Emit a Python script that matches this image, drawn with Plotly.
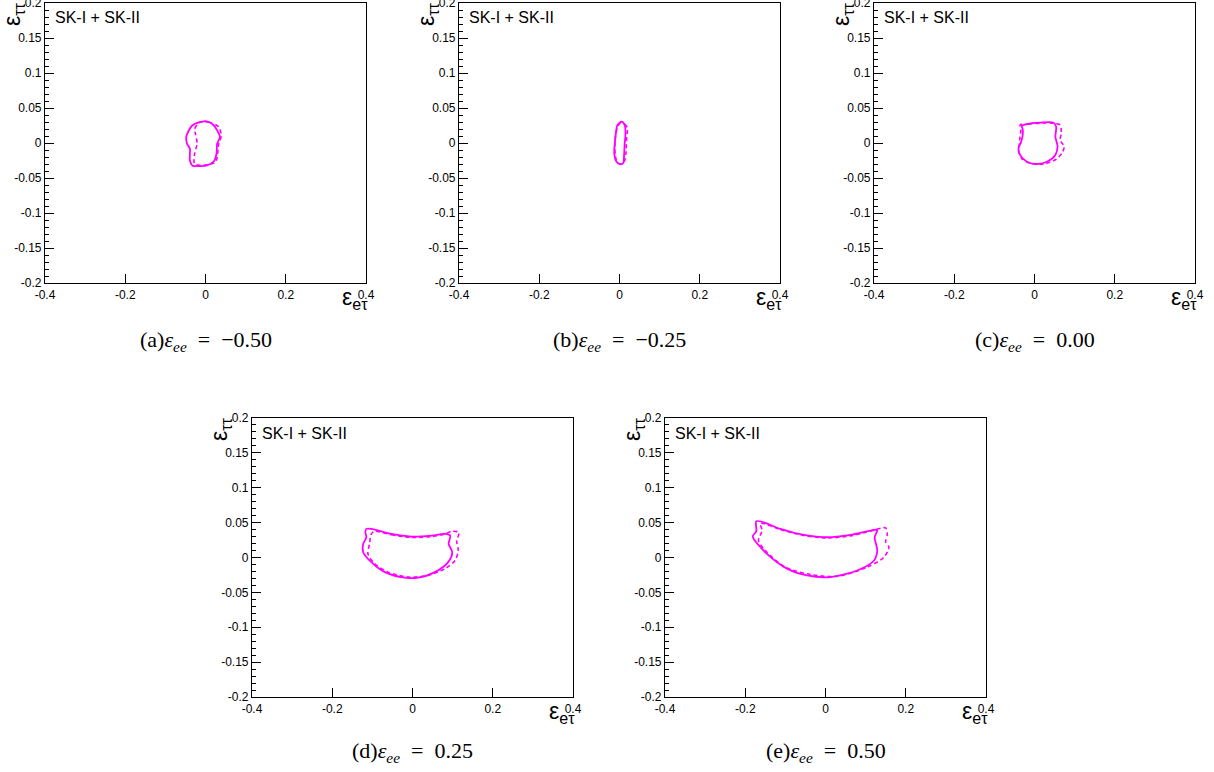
import plotly.graph_objects as go

# ---------------- data ----------------
panel_labels = ["(a)", "(b)", "(c)", "(d)", "(e)"]
eps_ee_values = ["\u22120.50", "\u22120.25", "0.00", "0.25", "0.50"]
x_tick_vals = [-0.4, -0.2, 0.0, 0.2, 0.4]
x_tick_text = ["-0.4", "-0.2", "0", "0.2", "0.4"]
y_tick_vals = [-0.2, -0.15, -0.1, -0.05, 0.0, 0.05, 0.1, 0.15, 0.2]
y_tick_text = ["-0.2", "-0.15", "-0.1", "-0.05", "0", "0.05", "0.1", "0.15", "0.2"]
legend_text = "SK-I + SK-II"

# (a) eps_ee = -0.50
a_solid_x = [-0.004, 0.008, 0.021, 0.029, 0.036, 0.029, 0.0275, 0.021, 0.004, -0.0125, -0.033, -0.039, -0.039, -0.046, -0.048, -0.033, -0.004]
a_solid_y = [0.031, 0.030, 0.025, 0.018, 0.0086, -0.001, -0.015, -0.026, -0.032, -0.033, -0.032, -0.025, -0.008, -0.001, 0.0086, 0.025, 0.031]
a_dash_x = [-0.0125, 0.008, 0.033, 0.039, 0.033, 0.029, 0.025, 0.004, -0.0125, -0.0275, -0.027, -0.021, -0.025, -0.027, -0.017, -0.0125]
a_dash_y = [0.030, 0.030, 0.023, 0.0095, -0.001, -0.020, -0.027, -0.031, -0.032, -0.0295, -0.015, -0.001, 0.013, 0.020, 0.0286, 0.030]

# (b) eps_ee = -0.25
b_solid_x = [0.005, 0.013, 0.015, 0.013, 0.0117, 0.009, 0.003, -0.0075, -0.013, -0.0117, -0.009, -0.005, 0.005]
b_solid_y = [0.0305, 0.0257, 0.0138, -0.0005, -0.0148, -0.029, -0.0305, -0.0267, -0.0148, -0.0005, 0.0138, 0.0257, 0.0305]
b_dash_x = [0.001, 0.013, 0.020, 0.019, 0.0175, 0.0167, 0.016, 0.0117, 0.003, -0.005, -0.010, -0.0117, -0.010, -0.006, 0.001]
b_dash_y = [0.028, 0.027, 0.021, 0.0138, 0.0043, -0.0076, -0.0148, -0.0267, -0.030, -0.028, -0.0195, -0.005, 0.009, 0.021, 0.028]

# (c) eps_ee = 0.00
c_solid_x = [-0.032, -0.019, 0.014, 0.0475, 0.054, 0.052, 0.0575, 0.052, 0.031, 0.006, -0.019, -0.036, -0.040, -0.033, -0.029, -0.030, -0.032]
c_solid_y = [0.0243, 0.027, 0.029, 0.029, 0.023, 0.009, -0.005, -0.017, -0.0267, -0.030, -0.0267, -0.017, -0.0076, 0.002, 0.0138, 0.021, 0.0243]
c_dash_x = [-0.036, -0.015, 0.020, 0.050, 0.064, 0.0667, 0.064, 0.074, 0.068, 0.052, 0.0225, -0.011, -0.032, -0.040, -0.0375, -0.036, -0.034, -0.036]
c_dash_y = [0.0257, 0.027, 0.0285, 0.028, 0.0257, 0.0138, 0.004, -0.005, -0.0148, -0.024, -0.030, -0.029, -0.022, -0.010, -0.0005, 0.009, 0.0186, 0.0257]

# (d) eps_ee = 0.25
d_solid_x = [-0.115, -0.1025, -0.0525, -0.0025, 0.0475, 0.081, 0.094, 0.090, 0.099, 0.089, 0.056, 0.014, -0.019, -0.069, -0.1025, -0.123, -0.123, -0.115, -0.1175, -0.115]
d_solid_y = [0.041, 0.041, 0.0338, 0.030, 0.0314, 0.0338, 0.0314, 0.0195, 0.0076, -0.0067, -0.021, -0.029, -0.029, -0.021, -0.0067, 0.0076, 0.0195, 0.029, 0.0362, 0.041]
d_dash_x = [-0.094, -0.0525, -0.0025, 0.0475, 0.081, 0.0975, 0.116, 0.110, 0.114, 0.106, 0.081, 0.039, -0.011, -0.061, -0.094, -0.111, -0.107, -0.1025, -0.094]
d_dash_y = [0.0376, 0.0325, 0.0288, 0.030, 0.0338, 0.0376, 0.036, 0.024, 0.010, -0.0043, -0.016, -0.0257, -0.028, -0.021, -0.009, 0.005, 0.0195, 0.0338, 0.0376]

# (e) eps_ee = 0.50
e_solid_x = [-0.1725, -0.154, -0.1125, -0.054, 0.004, 0.0625, 0.1125, 0.129, 0.1225, 0.129, 0.121, 0.079, 0.0125, -0.046, -0.096, -0.146, -0.179, -0.181, -0.1725, -0.1735, -0.1725]
e_solid_y = [0.052, 0.0505, 0.041, 0.0324, 0.029, 0.0324, 0.0386, 0.0395, 0.029, 0.010, -0.0043, -0.0186, -0.028, -0.0257, -0.016, 0.0052, 0.0267, 0.031, 0.0376, 0.048, 0.052]
e_dash_x = [-0.1625, -0.1125, -0.054, 0.004, 0.0625, 0.1125, 0.150, 0.154, 0.150, 0.158, 0.146, 0.104, 0.029, -0.0375, -0.100, -0.146, -0.167, -0.158, -0.1625]
e_dash_y = [0.049, 0.040, 0.0315, 0.028, 0.031, 0.038, 0.0424, 0.0338, 0.022, 0.0148, 0.0005, -0.0138, -0.027, -0.0243, -0.014, 0.0076, 0.0243, 0.0386, 0.049]

solid_x = [a_solid_x, b_solid_x, c_solid_x, d_solid_x, e_solid_x]
solid_y = [a_solid_y, b_solid_y, c_solid_y, d_solid_y, e_solid_y]
dash_x = [a_dash_x, b_dash_x, c_dash_x, d_dash_x, e_dash_x]
dash_y = [a_dash_y, b_dash_y, c_dash_y, d_dash_y, e_dash_y]

# ---------------- layout geometry (pixels) ----------------
W, H = 1214, 772
frames = [  # left, right, top, bottom
    (45, 366, 3, 283),
    (459, 780, 3, 283),
    (874, 1195, 3, 283),
    (252, 573, 418, 697),
    (665, 986, 418, 697),
]
caption_y = [341, 341, 341, 752, 752]

def px(x):
    return x / W

def py(y):
    return 1 - y / H

MAGENTA = "#ff00ff"
SANS = "Liberation Sans, Arial, sans-serif"
fig = go.Figure()
layout = dict(
    width=W, height=H, autosize=False,
    margin=dict(l=0, r=0, t=0, b=0, pad=0, autoexpand=False),
    paper_bgcolor="white", plot_bgcolor="white",
    showlegend=False,
    font=dict(family=SANS, color="black"),
)
annotations = []

for i in range(5):
    xa = "x" if i == 0 else f"x{i+1}"
    ya = "y" if i == 0 else f"y{i+1}"
    L, R, T, B = frames[i]
    fig.add_trace(go.Scatter(x=solid_x[i], y=solid_y[i], mode="lines",
                             line=dict(color=MAGENTA, width=1.8, shape="spline", smoothing=0.8),
                             xaxis=xa, yaxis=ya, hoverinfo="skip"))
    fig.add_trace(go.Scatter(x=dash_x[i], y=dash_y[i], mode="lines",
                             line=dict(color=MAGENTA, width=1.6, dash="4px,3px", shape="spline", smoothing=0.8),
                             xaxis=xa, yaxis=ya, hoverinfo="skip"))
    kx = "xaxis" if i == 0 else f"xaxis{i+1}"
    ky = "yaxis" if i == 0 else f"yaxis{i+1}"
    layout[kx] = dict(
        domain=[px(L), px(R)], anchor=ya, range=[-0.4, 0.4],
        tickvals=x_tick_vals, ticktext=x_tick_text,
        ticks="inside", ticklen=9, tickwidth=1, tickcolor="black",
        showline=True, linecolor="black", linewidth=1.2, mirror=True,
        showgrid=False, zeroline=False, fixedrange=True, automargin=False,
        ticklabeloverflow="allow",
        tickfont=dict(size=12, family=SANS, color="black"),
    )
    layout[ky] = dict(
        domain=[py(B), py(T)], anchor=xa, range=[-0.2, 0.2],
        tickvals=y_tick_vals, ticktext=y_tick_text,
        ticks="inside", ticklen=9, tickwidth=1, tickcolor="black",
        minor=dict(dtick=0.01, tick0=0, ticks="inside", ticklen=4, tickwidth=1, tickcolor="black", showgrid=False),
        showline=True, linecolor="black", linewidth=1.2, mirror=True,
        showgrid=False, zeroline=False, fixedrange=True, automargin=False,
        ticklabeloverflow="allow",
        tickfont=dict(size=12, family=SANS, color="black"),
    )
    # SK-I + SK-II label
    annotations.append(dict(
        xref="paper", yref="paper", x=px(L + 8), y=py(T + 15),
        xanchor="left", yanchor="middle", showarrow=False, text=legend_text,
        font=dict(size=16, family=SANS, color="black"),
    ))
    # x-axis title
    annotations.append(dict(
        xref="paper", yref="paper", x=px(R + 4), y=py(B - 1),
        xanchor="right", yanchor="top", showarrow=False,
        text="\u03b5<sub>e\u03c4</sub>",
        font=dict(size=23, family=SANS, color="black"),
    ))
    # y-axis title (rotated)
    annotations.append(dict(
        xref="paper", yref="paper", x=px(L - 32), y=py(T - 3),
        xanchor="center", yanchor="top", showarrow=False, textangle=-90,
        text="\u03b5<sub>\u03c4\u03c4</sub>",
        font=dict(size=23, family=SANS, color="black"),
    ))
    # caption
    annotations.append(dict(
        xref="paper", yref="paper", x=px((L + R) / 2), y=py(caption_y[i]),
        xanchor="center", yanchor="middle", showarrow=False,
        text=f"{panel_labels[i]}<i>\u03b5</i><sub><i>ee</i></sub>\u2002=\u2002{eps_ee_values[i]}",
        font=dict(size=22, family="Liberation Serif, DejaVu Serif, serif", color="black"),
    ))

layout["annotations"] = annotations
fig.update_layout(**layout)
fig.write_html(
    "out.html",
    config={"displayModeBar": False},
    post_script="document.body.style.margin='0px';document.body.style.overflow='hidden';",
)
